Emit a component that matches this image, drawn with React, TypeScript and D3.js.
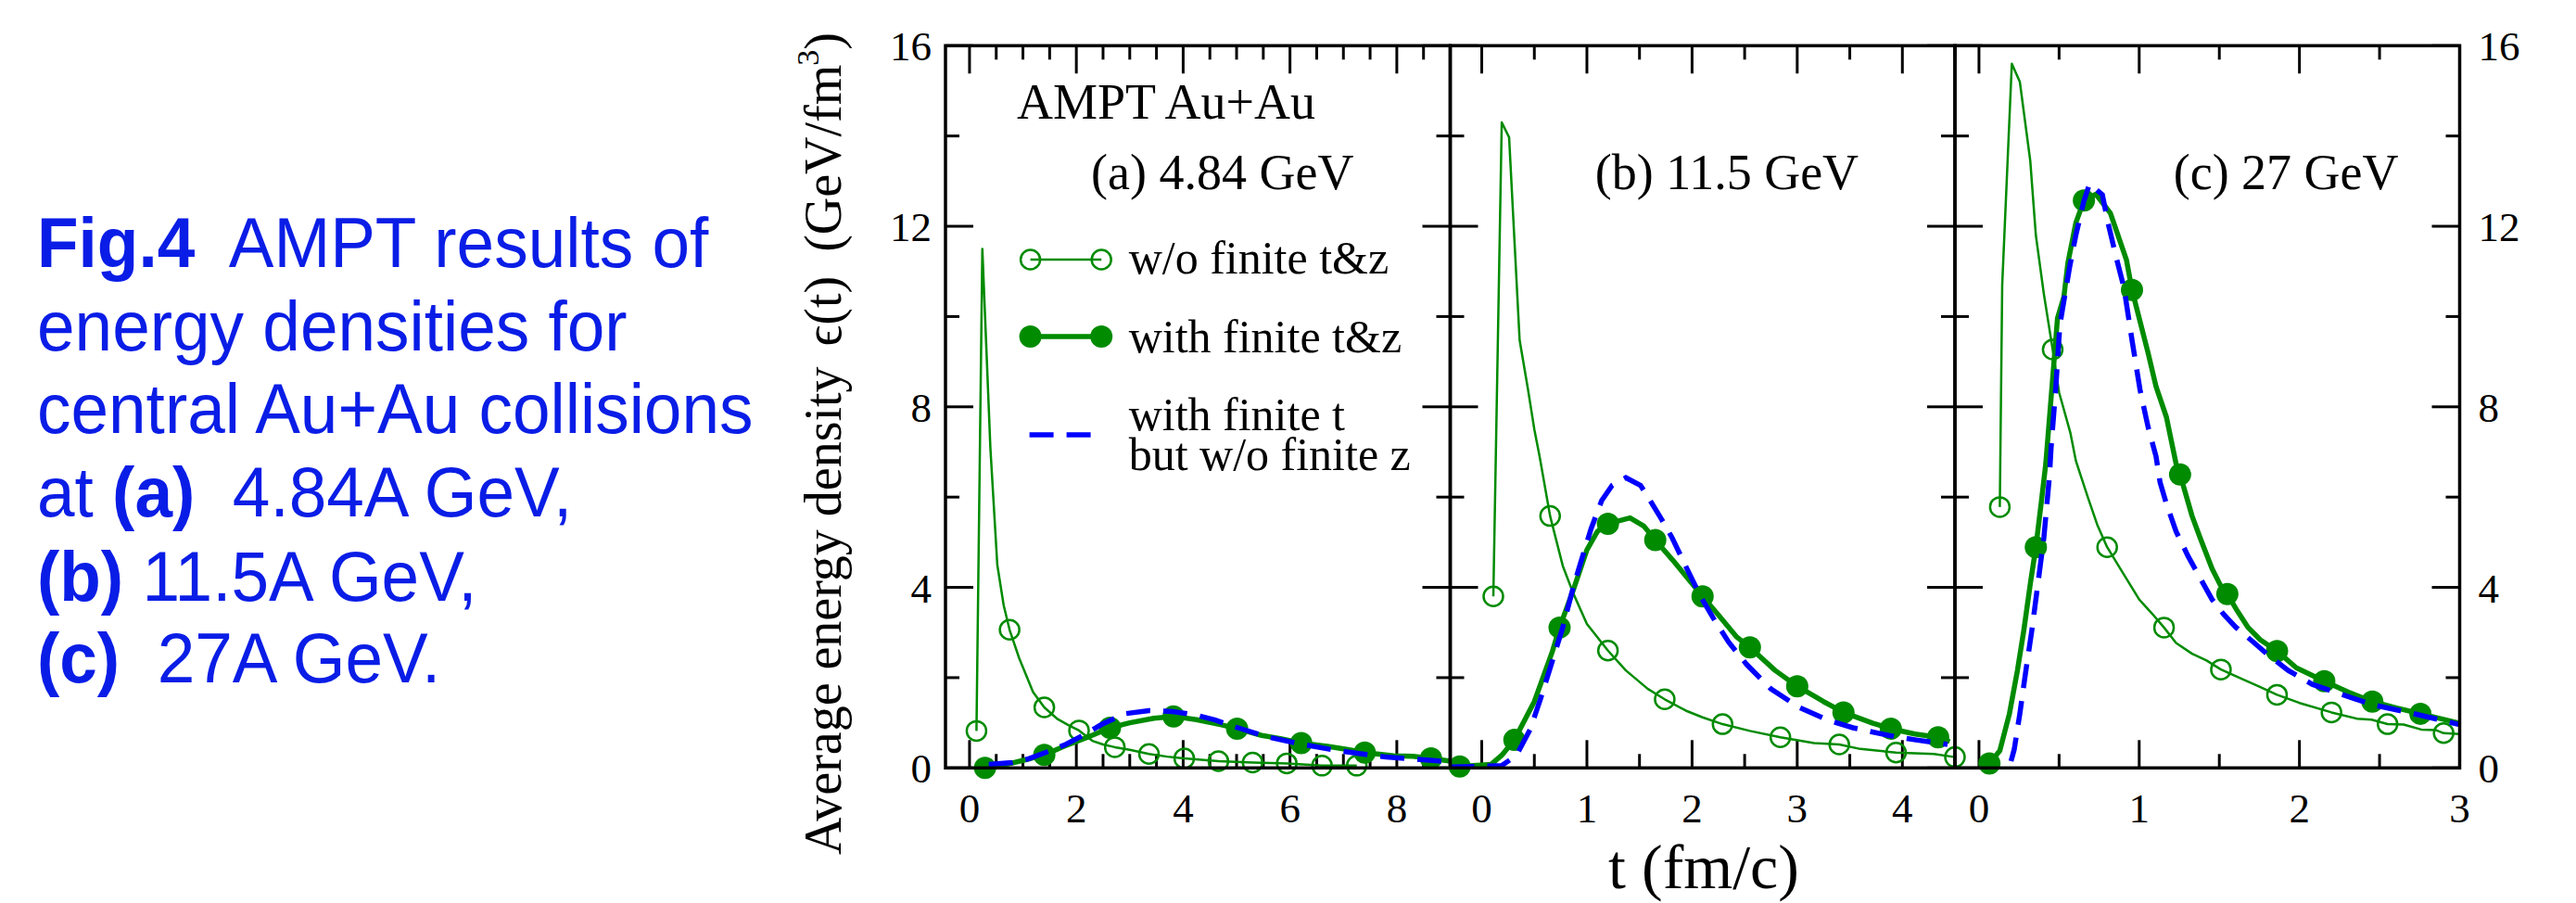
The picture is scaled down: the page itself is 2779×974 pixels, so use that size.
import React from 'react';
import * as d3 from 'd3';

type P = [number, number];

// ---------- data (t in fm/c, energy density in GeV/fm^3) ----------
// Panel (a) 4.84 GeV
const aOpenLine: P[] = [[0.13,0.82],[0.24,11.5],[0.39,7.1],[0.52,4.5],[0.64,3.6],[0.75,3.06],[0.93,2.43],[1.19,1.68],[1.40,1.34],[1.65,1.08],[1.85,0.95],[2.05,0.83],[2.3,0.6],[2.5,0.52],[2.72,0.46],[3.0,0.4],[3.36,0.31],[3.7,0.25],[4.02,0.21],[4.66,0.15],[5.3,0.12],[5.94,0.10],[6.6,0.05],[7.25,0.05]];
const aOpenMarks: P[] = [[0.13,0.82],[0.75,3.06],[1.40,1.34],[2.05,0.83],[2.72,0.46],[3.36,0.31],[4.02,0.21],[4.66,0.15],[5.30,0.12],[5.94,0.10],[6.60,0.05],[7.25,0.05]];
const aFullLine: P[] = [[0.29,0.0],[0.7,0.08],[1.05,0.18],[1.40,0.29],[1.77,0.48],[2.21,0.68],[2.63,0.89],[3.0,1.0],[3.45,1.1],[3.82,1.14],[4.25,1.07],[4.7,0.96],[5.01,0.87],[5.47,0.72],[5.82,0.65],[6.21,0.55],[6.7,0.48],[7.06,0.41],[7.4,0.34],[7.94,0.27],[8.3,0.26],[8.64,0.21],[9.0,0.15]];
const aFullMarks: P[] = [[0.29,0.0],[1.40,0.29],[2.63,0.89],[3.82,1.14],[5.01,0.87],[6.21,0.55],[7.40,0.34],[8.64,0.21]];
const aDashLine: P[] = [[0.36,0.08],[0.8,0.12],[1.1,0.2],[1.42,0.34],[1.8,0.52],[2.12,0.72],[2.47,0.96],[2.9,1.2],[3.36,1.27],[3.8,1.25],[4.25,1.17],[4.6,1.06],[5.0,0.9],[5.56,0.69],[6.2,0.53],[6.9,0.38],[7.8,0.24],[8.95,0.14]];

// Panel (b) 11.5 GeV
const bOpenLine: P[] = [[0.11,3.8],[0.19,14.3],[0.26,13.97],[0.36,9.48],[0.44,8.38],[0.5,7.5],[0.55,6.9],[0.65,5.58],[0.77,4.48],[0.87,3.87],[1.0,3.19],[1.2,2.6],[1.37,2.16],[1.58,1.75],[1.74,1.52],[1.94,1.27],[2.1,1.12],[2.29,0.97],[2.55,0.82],[2.84,0.68],[3.16,0.55],[3.4,0.52],[3.6,0.42],[3.94,0.34],[4.3,0.31],[4.5,0.24]];
const bOpenMarks: P[] = [[0.11,3.8],[0.65,5.58],[1.2,2.6],[1.74,1.52],[2.29,0.97],[2.84,0.68],[3.40,0.52],[3.94,0.34],[4.50,0.24]];
const bFullLine: P[] = [[-0.3,0.08],[-0.21,0.03],[0.09,0.08],[0.19,0.28],[0.31,0.62],[0.5,1.47],[0.67,2.57],[0.74,3.11],[0.87,3.94],[1.0,4.83],[1.1,5.24],[1.2,5.41],[1.41,5.54],[1.54,5.36],[1.65,5.05],[1.81,4.62],[1.98,4.14],[2.1,3.8],[2.25,3.39],[2.42,2.91],[2.55,2.67],[2.79,2.16],[3.0,1.81],[3.25,1.47],[3.44,1.23],[3.72,0.99],[3.89,0.87],[4.12,0.75],[4.34,0.68],[4.45,0.58]];
const bFullMarks: P[] = [[-0.21,0.03],[0.31,0.62],[0.74,3.11],[1.2,5.41],[1.65,5.05],[2.1,3.8],[2.55,2.67],[3.0,1.81],[3.44,1.23],[3.89,0.87],[4.34,0.68]];
const bDashLine: P[] = [[-0.3,0.02],[0.19,0.05],[0.33,0.28],[0.46,0.85],[0.56,1.54],[0.67,2.36],[0.77,3.11],[0.87,4.0],[0.95,4.62],[1.04,5.3],[1.14,5.92],[1.24,6.26],[1.37,6.43],[1.51,6.26],[1.61,5.89],[1.71,5.51],[1.81,5.1],[1.95,4.42],[2.08,3.8],[2.22,3.25],[2.35,2.78],[2.52,2.29],[2.75,1.75],[3.02,1.34],[3.29,1.06],[3.53,0.89],[3.87,0.72],[4.13,0.62],[4.43,0.52]];

// Panel (c) 27 GeV
const cOpenLine: P[] = [[0.13,5.78],[0.145,10.7],[0.205,15.6],[0.255,15.2],[0.32,13.45],[0.355,11.8],[0.405,10.5],[0.46,9.27],[0.5,8.32],[0.57,7.43],[0.605,6.8],[0.68,5.99],[0.74,5.37],[0.80,4.89],[0.905,4.28],[1.0,3.73],[1.08,3.42],[1.155,3.11],[1.23,2.77],[1.33,2.53],[1.42,2.38],[1.51,2.18],[1.655,1.95],[1.75,1.8],[1.86,1.62],[2.0,1.44],[2.2,1.23],[2.36,1.09],[2.45,1.07],[2.55,0.97],[2.65,0.96],[2.76,0.85],[2.85,0.84],[2.9,0.77],[3.0,0.75]];
const cOpenMarks: P[] = [[0.13,5.78],[0.46,9.27],[0.80,4.89],[1.155,3.11],[1.51,2.18],[1.86,1.62],[2.2,1.23],[2.55,0.97],[2.9,0.77]];
const cFullLine: P[] = [[0.065,0.1],[0.13,0.38],[0.19,1.2],[0.24,2.16],[0.28,3.05],[0.32,4.07],[0.355,4.89],[0.39,5.92],[0.417,6.74],[0.49,9.96],[0.53,10.44],[0.555,11.19],[0.605,12.08],[0.655,12.57],[0.73,12.71],[0.82,12.29],[0.92,11.26],[0.955,10.59],[1.055,9.2],[1.105,8.45],[1.17,7.77],[1.23,6.74],[1.255,6.5],[1.33,5.58],[1.38,5.1],[1.455,4.41],[1.505,4.06],[1.55,3.85],[1.605,3.52],[1.68,3.11],[1.755,2.84],[1.86,2.59],[1.98,2.22],[2.155,1.92],[2.305,1.68],[2.455,1.47],[2.605,1.33],[2.755,1.2],[3.0,0.99]];
const cFullMarks: P[] = [[0.065,0.1],[0.355,4.89],[0.655,12.57],[0.955,10.59],[1.255,6.5],[1.55,3.85],[1.86,2.59],[2.155,1.92],[2.455,1.47],[2.755,1.2]];
const cDashLine: P[] = [[0.2,0.15],[0.22,0.41],[0.255,1.2],[0.29,2.09],[0.33,3.05],[0.37,4.14],[0.405,5.1],[0.44,6.47],[0.45,7.09],[0.48,8.45],[0.505,9.82],[0.567,11.12],[0.605,11.81],[0.655,12.56],[0.69,12.94],[0.77,12.7],[0.805,12.08],[0.855,11.33],[0.905,10.64],[0.955,9.48],[1.005,8.38],[1.055,7.56],[1.105,6.9],[1.13,6.33],[1.17,5.85],[1.23,5.24],[1.305,4.69],[1.38,4.21],[1.455,3.73],[1.53,3.39],[1.605,3.11],[1.705,2.81],[1.805,2.5],[1.93,2.16],[2.08,1.85],[2.255,1.64],[2.455,1.4],[2.68,1.23],[3.0,0.96]];

const panelLabels = ['(a) 4.84 GeV', '(b) 11.5 GeV', '(c) 27 GeV'];
const xDomains: P[] = [[-0.45, 9], [-0.3, 4.5], [-0.15, 3]];
const xMajorSteps = [2, 1, 1];
const xMinorStep = 0.5;
const yTicksMajor = [0, 4, 8, 12, 16];
const yTicksMinor = [2, 6, 10, 14];
const legendLabels = ['w/o finite t&z', 'with finite t&z', 'with finite t', 'but w/o finite z'];
const captionLines = [
  [{ b: true, t: 'Fig.4' }, { b: false, t: '  AMPT results of' }],
  [{ b: false, t: 'energy densities for' }],
  [{ b: false, t: 'central Au+Au collisions' }],
  [{ b: false, t: 'at ' }, { b: true, t: '(a)' }, { b: false, t: '  4.84A GeV,' }],
  [{ b: true, t: '(b)' }, { b: false, t: ' 11.5A GeV,' }],
  [{ b: true, t: '(c)' }, { b: false, t: '  27A GeV.' }],
];

const series = [
  { open: aOpenLine, openM: aOpenMarks, full: aFullLine, fullM: aFullMarks, dash: aDashLine },
  { open: bOpenLine, openM: bOpenMarks, full: bFullLine, fullM: bFullMarks, dash: bDashLine },
  { open: cOpenLine, openM: cOpenMarks, full: cFullLine, fullM: cFullMarks, dash: cDashLine },
];

// ---------- layout ----------
const W = 2779, H = 974;
const plotL = 1020, plotR = 2653.5, plotT = 49.3, plotB = 828.3;
const panelW = (plotR - plotL) / 3;
const GREEN = '#008b00';
const BLUE = '#0000ff';
const CAP = '#0a1de6';
const SERIF = '"Liberation Serif", "Times New Roman", serif';
const SANS = '"Liberation Sans", Arial, sans-serif';
const capBaselines = [288, 378, 467, 557, 648, 736];

const yScale = d3.scaleLinear().domain([0, 16]).range([plotB, plotT]);

export default function App() {
  const panelsEls = series.map((s, i) => {
    const x0 = plotL + i * panelW;
    const x = d3.scaleLinear().domain(xDomains[i]).range([x0, x0 + panelW]);
    const line = d3.line<P>().x(d => x(d[0])).y(d => yScale(d[1]));
    const minor = d3.range(0, xDomains[i][1] + 1e-9, xMinorStep);
    const isMajor = (v: number) => Math.abs(v / xMajorSteps[i] - Math.round(v / xMajorSteps[i])) < 1e-6;
    const majors = minor.filter(isMajor);
    return (
      <g key={i}>
        {minor.map((v, k) => {
          const len = isMajor(v) ? 30 : 15;
          return (
            <g key={'xt' + k} stroke="#000" strokeWidth={3}>
              <line x1={x(v)} x2={x(v)} y1={plotB} y2={plotB - len} />
              <line x1={x(v)} x2={x(v)} y1={plotT} y2={plotT + len} />
            </g>
          );
        })}
        {[...yTicksMajor, ...yTicksMinor].map((v, k) => {
          const len = yTicksMajor.includes(v) ? 30 : 15;
          return (
            <g key={'yt' + k} stroke="#000" strokeWidth={3}>
              <line x1={x0} x2={x0 + len} y1={yScale(v)} y2={yScale(v)} />
              <line x1={x0 + panelW} x2={x0 + panelW - len} y1={yScale(v)} y2={yScale(v)} />
            </g>
          );
        })}
        {majors.map((v, k) => (
          <text key={'xl' + k} x={x(v)} y={887} textAnchor="middle" fontFamily={SERIF} fontSize={45}>{String(v)}</text>
        ))}
        <path d={line(s.open) || ''} fill="none" stroke={GREEN} strokeWidth={2.5} strokeLinejoin="round" />
        {s.openM.map((d, k) => (
          <circle key={'om' + k} cx={x(d[0])} cy={yScale(d[1])} r={10.5} fill="none" stroke={GREEN} strokeWidth={2.5} />
        ))}
        <path d={line(s.full) || ''} fill="none" stroke={GREEN} strokeWidth={5.5} strokeLinejoin="round" />
        {s.fullM.map((d, k) => (
          <circle key={'fm' + k} cx={x(d[0])} cy={yScale(d[1])} r={12} fill={GREEN} />
        ))}
        <path d={line(s.dash) || ''} fill="none" stroke={BLUE} strokeWidth={5.5} strokeDasharray="26 14" />
        <rect x={x0} y={plotT} width={panelW} height={plotB - plotT} fill="none" stroke="#000" strokeWidth={3.5} />
        <text x={[1177, 1720.7, 2344.7][i]} y={204} fontFamily={SERIF} fontSize={54}>{panelLabels[i]}</text>
      </g>
    );
  });

  return (
    <svg width={W} height={H} viewBox={`0 0 ${W} ${H}`} style={{ position: 'absolute', left: 0, top: 0, display: 'block', background: '#fff' }}>
      <rect x={0} y={0} width={W} height={H} fill="#fff" />
      {captionLines.map((ln, i) => (
        <text key={'cap' + i} transform={`translate(40,${capBaselines[i]}) scale(0.96,1)`} fontFamily={SANS} fontSize={76} fill={CAP} style={{ whiteSpace: 'pre' }}>
          {ln.map((p, k) => (
            <tspan key={k} fontWeight={p.b ? 'bold' : 'normal'}>{p.t}</tspan>
          ))}
        </text>
      ))}
      {panelsEls}
      {yTicksMajor.map((v, k) => (
        <g key={'yl' + k} fontFamily={SERIF} fontSize={45}>
          <text x={1005} y={yScale(v) + 16} textAnchor="end">{String(v)}</text>
          <text x={2673.5} y={yScale(v) + 16} textAnchor="start">{String(v)}</text>
        </g>
      ))}
      <text transform="translate(907,922) rotate(-90)" fontFamily={SERIF} fontSize={56} style={{ whiteSpace: 'pre' }}>
        Average energy density<tspan dx={22}>ϵ(t)</tspan><tspan dx={26}>(GeV/fm</tspan><tspan dx={-1} dy={-24} fontSize={34}>3</tspan><tspan dy={24}>)</tspan>
      </text>
      <text x={1838} y={958} textAnchor="middle" fontFamily={SERIF} fontSize={68}>t (fm/c)</text>
      <text x={1097} y={128} fontFamily={SERIF} fontSize={54}>AMPT Au+Au</text>
      <line x1={1111.6} x2={1188.2} y1={280} y2={280} stroke={GREEN} strokeWidth={2.5} />
      <circle cx={1111.6} cy={280} r={10.5} fill="none" stroke={GREEN} strokeWidth={2.5} />
      <circle cx={1188.2} cy={280} r={10.5} fill="none" stroke={GREEN} strokeWidth={2.5} />
      <text x={1217.7} y={295} fontFamily={SERIF} fontSize={50}>{legendLabels[0]}</text>
      <line x1={1111.6} x2={1188.2} y1={363} y2={363} stroke={GREEN} strokeWidth={5.5} />
      <circle cx={1111.6} cy={363} r={12} fill={GREEN} />
      <circle cx={1188.2} cy={363} r={12} fill={GREEN} />
      <text x={1217.7} y={380} fontFamily={SERIF} fontSize={50}>{legendLabels[1]}</text>
      <line x1={1110.6} x2={1177} y1={469} y2={469} stroke={BLUE} strokeWidth={5.5} strokeDasharray="26 14" />
      <text x={1217.7} y={464} fontFamily={SERIF} fontSize={50}>{legendLabels[2]}</text>
      <text x={1217.7} y={507} fontFamily={SERIF} fontSize={50}>{legendLabels[3]}</text>
    </svg>
  );
}
